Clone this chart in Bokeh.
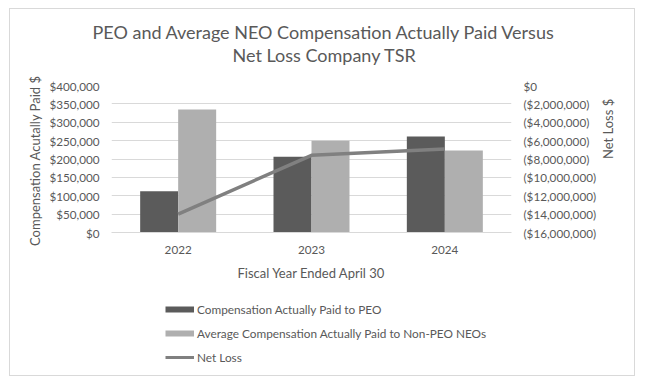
import math
from bokeh.plotting import figure
from bokeh.layouts import column
from bokeh.models import (ColumnDataSource, FactorRange, Range1d, LinearAxis, FixedTicker,
                          Title, Legend, LegendItem)
from bokeh.transform import dodge
from bokeh.embed import file_html
from bokeh.resources import INLINE

years = ["2022", "2023", "2024"]
peo_cap = [112000, 206000, 261000]
neo_cap = [335000, 250000, 223000]
net_loss = [-14000000, -7600000, -6900000]

left_ticks = [0, 50000, 100000, 150000, 200000, 250000, 300000, 350000, 400000]
left_labels = ["$0", "$50,000", "$100,000", "$150,000", "$200,000", "$250,000",
               "$300,000", "$350,000", "$400,000"]
right_ticks = [0, -2000000, -4000000, -6000000, -8000000, -10000000, -12000000,
               -14000000, -16000000]
right_labels = ["$0", "($2,000,000)", "($4,000,000)", "($6,000,000)", "($8,000,000)",
                "($10,000,000)", "($12,000,000)", "($14,000,000)", "($16,000,000)"]

title_lines = ["PEO and Average NEO Compensation Actually Paid Versus",
               "Net Loss Company TSR"]
series_names = ["Compensation Actually Paid to PEO",
                "Average Compensation Actually Paid to Non-PEO NEOs",
                "Net Loss"]

FONT = "Lato"
TXT = "#595959"
DARK = "#5b5b5b"
LIGHT = "#afafaf"
LINEC = "#808080"
GRID = "#d9d9d9"
W = 624
NAN = float("nan")


def blank_fig(h, top=0, bottom=0):
    f = figure(width=W, height=h, output_backend="svg", toolbar_location=None,
               x_range=Range1d(0, 1), y_range=Range1d(0, 1),
               x_axis_location=None, y_axis_location=None,
               min_border_left=0, min_border_right=0, min_border_top=top,
               min_border_bottom=bottom)
    f.outline_line_color = None
    f.grid.visible = False
    return f


# ---- title figure (two title lines around a 1px frame)
pt = blank_fig(59, top=33, bottom=25)
t1 = Title(text=title_lines[0], align="left", offset=-19, vertical_align="bottom",
           standoff=0, text_font=FONT, text_font_size="18px",
           text_font_style="normal", text_color=TXT)
t2 = Title(text=title_lines[1], align="left", offset=121, vertical_align="top",
           standoff=0, text_font=FONT, text_font_size="18px",
           text_font_style="normal", text_color=TXT)
pt.add_layout(t1, "above")
pt.add_layout(t2, "below")

# ---- main figure
src = ColumnDataSource(dict(year=years, peo=peo_cap, neo=neo_cap, loss=net_loss))

p = figure(width=W, height=220, output_backend="svg", toolbar_location=None,
           x_range=FactorRange(*years, range_padding=0),
           y_range=Range1d(0, 400000),
           min_border_left=101, min_border_right=123, min_border_top=17,
           min_border_bottom=56)
p.outline_line_color = None
p.extra_y_ranges = {"loss": Range1d(-16000000, 0)}

bw = 0.285
p.vbar(x=dodge("year", -bw / 2, range=p.x_range), top="peo", width=bw,
       source=src, fill_color=DARK, line_color=None)
p.vbar(x=dodge("year", bw / 2, range=p.x_range), top="neo", width=bw,
       source=src, fill_color=LIGHT, line_color=None)
p.line(x="year", y="loss", source=src, y_range_name="loss",
       line_color=LINEC, line_width=3.5)

p.yaxis.ticker = FixedTicker(ticks=left_ticks)
p.yaxis.major_label_overrides = dict(zip(left_ticks, left_labels))
p.yaxis.axis_label = "Compensation Acutally Paid  $"
right = LinearAxis(y_range_name="loss", ticker=FixedTicker(ticks=right_ticks),
                   axis_label="Net Loss $")
right.major_label_overrides = dict(zip(right_ticks, right_labels))
right.axis_label_orientation = math.pi / 2
p.add_layout(right, "right")
p.xaxis.axis_label = "Fiscal Year Ended April 30"

for ax in [p.yaxis[0], right, p.xaxis[0]]:
    ax.major_tick_line_color = None
    ax.minor_tick_line_color = None
    ax.major_tick_out = 0
    ax.major_tick_in = 0
    ax.minor_tick_out = 0
    ax.minor_tick_in = 0
    ax.major_label_text_font = FONT
    ax.major_label_text_font_size = "11.7px"
    ax.major_label_text_color = TXT
    ax.axis_label_text_font = FONT
    ax.axis_label_text_font_size = "13px"
    ax.axis_label_text_font_style = "normal"
    ax.axis_label_text_color = TXT
p.yaxis[0].axis_line_color = None
right.axis_line_color = None
p.xaxis.axis_line_color = GRID
p.yaxis[0].major_label_standoff = 12
right.major_label_standoff = 12
p.yaxis[0].axis_label_standoff = 3
right.axis_label_standoff = 9
p.xaxis.major_label_standoff = 13
p.xaxis.axis_label_standoff = 8

p.xgrid.grid_line_color = None
p.ygrid.ticker = FixedTicker(ticks=left_ticks)
p.ygrid.grid_line_color = GRID

# ---- legend figure
pl = blank_fig(87)
proxy_peo = pl.line(x=[NAN], y=[NAN], line_color=DARK, line_width=6)
proxy_neo = pl.line(x=[NAN], y=[NAN], line_color=LIGHT, line_width=6)
proxy_line = pl.line(x=[NAN], y=[NAN], line_color=LINEC, line_width=3)
legend = Legend(items=[LegendItem(label=series_names[0], renderers=[proxy_peo]),
                       LegendItem(label=series_names[1], renderers=[proxy_neo]),
                       LegendItem(label=series_names[2], renderers=[proxy_line])],
                location=(54, 10), orientation="vertical",
                padding=0, margin=0, spacing=8, glyph_width=29, glyph_height=16,
                label_height=16, label_standoff=3,
                label_text_font=FONT, label_text_font_size="11.8px",
                label_text_color=TXT, border_line_color=None,
                background_fill_alpha=0)
pl.add_layout(legend, "center")

layout = column(pt, p, pl, spacing=0,
                styles={"border": "1px solid #d9d9d9", "margin-left": "9px",
                        "margin-top": "8px"})

open("out.html", "w").write(file_html(layout, INLINE))
